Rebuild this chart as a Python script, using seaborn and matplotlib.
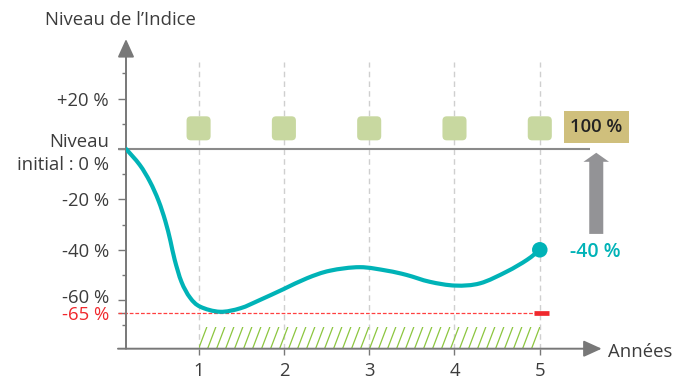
import numpy as np
import matplotlib
matplotlib.use("Agg")
import matplotlib.pyplot as plt
import matplotlib.transforms as mtransforms
import seaborn as sns
from matplotlib.patches import BoxStyle, Rectangle, PathPatch
from matplotlib.collections import LineCollection
from matplotlib.path import Path

# ---- data -------------------------------------------------------------
years = [0.15, 0.31, 0.43, 0.53, 0.61, 0.67, 0.72, 0.80, 0.90, 1.02,
         1.25, 1.49, 1.72, 1.99, 2.27, 2.54, 2.89, 3.21, 3.44, 3.71, 4.01,
         4.30, 4.61, 4.85, 5.00]
index_level = [0.0, -6.3, -13.0, -20.5, -28.6, -36.5, -44.0, -52.8,
               -59.0, -62.6, -64.6, -63.2, -59.9, -55.7, -51.3, -48.3, -46.9,
               -48.3, -50.0, -52.7, -54.2, -53.3, -48.7, -44.0, -40.0]
observation_years = [1, 2, 3, 4, 5]
coupon_level = [8.2, 8.2, 8.2, 8.2, 8.2]
barrier = -65
protection_top = -70.6
final_level = -40
redemption = "100 %"
ytick_values = [20, 0, -20, -40, -60, -65]
ytick_labels = ["+20 %", "Niveau\ninitial : 0 %", "-20 %", "-40 %", "-60 %", "-65 %"]
yminor_values = [30, 10, -10, -30, -50, -70]

# ---- style ------------------------------------------------------------
sns.set_theme(style="white")
plt.rcParams["font.family"] = ["Open Sans", "DejaVu Sans"]

TEAL = "#00b3b7"
AXIS = "#787878"
TEXT = "#3c3c3c"
RED = "#f0282d"
SQUARE = "#c8d8a0"
HATCH = "#8cc63f"
FS = 13.3

fig = plt.figure(figsize=(6.74, 3.82), dpi=100)
W, H = 674, 382
ax = fig.add_axes([126 / W, (H - 348.7) / H, (620 - 126) / W, (348.7 - 30) / H])
x0, x1 = 0.149, 0.149 + 494 / 85.3
y0, y1 = -79.25, -79.25 + 318.7 / 2.52
ax.set_xlim(x0, x1)
ax.set_ylim(y0, y1)
for s in ax.spines.values():
    s.set_visible(False)


def smooth_path(xs, ys):
    """Catmull-Rom curve through the given points, as cubic Bezier segments."""
    p = np.column_stack([xs, ys]).astype(float)
    q = np.vstack([p[0], p, p[-1]])
    verts, codes = [p[0]], [Path.MOVETO]
    for i in range(1, len(q) - 2):
        c1 = q[i] + (q[i + 1] - q[i - 1]) / 6.0
        c2 = q[i + 1] - (q[i + 2] - q[i]) / 6.0
        verts += [c1, c2, q[i + 1]]
        codes += [Path.CURVE4] * 3
    return Path(verts, codes)


# vertical guide lines for each observation date
ax.vlines(observation_years, y0, 34.6, colors="#cfcfcf", lw=1.0,
          linestyles=(0, (4, 3)), zorder=1)

# protected zone hatching
dx, step = 0.097, 0.1055
segs = [[(xs, y0), (xs + dx, protection_top)] for xs in np.arange(1, 5, step)]
clip = Rectangle((1, y0), 4, protection_top - y0, transform=ax.transData)
lc = LineCollection(segs, colors=HATCH, linewidths=0.9, zorder=2)
ax.add_collection(lc)
lc.set_clip_path(clip)

# barrier line
ax.plot([0.055, 5.0], [barrier, barrier], color="#ff4040", lw=0.9,
        dashes=(3, 1.5), clip_on=False, zorder=3)
ax.hlines(barrier, 4.932, 5.107, colors=RED, lw=3.4, zorder=4)

# initial level line
ax.hlines(0, 0.055, 5.589, colors="#8a8a8a", lw=1.5, clip_on=False, zorder=2)

# axes with arrows
arrow_kw = dict(arrowstyle="-|>,head_length=0.55,head_width=0.25",
                mutation_scale=20, color=AXIS, lw=1.4, shrinkA=0, shrinkB=0)
ax.annotate("", xy=(x0, 43.65), xytext=(x0, y0), arrowprops=arrow_kw,
            annotation_clip=False)
ax.annotate("", xy=(5.726, y0), xytext=(0.055, y0), arrowprops=arrow_kw,
            annotation_clip=False)

# index path
ax.add_patch(PathPatch(smooth_path(years, index_level), fill=False,
                       edgecolor=TEAL, lw=3.0, capstyle="round",
                       joinstyle="round", zorder=5))
sns.scatterplot(x=[observation_years[-1]], y=[final_level], color=TEAL,
                s=125, edgecolor="none", ax=ax, zorder=6)

# coupon observation squares
square = BoxStyle("Round", pad=0.0, rounding_size=0.18)(-0.5, -0.5, 1.0, 1.0, 1.0)
sns.scatterplot(x=observation_years, y=coupon_level, marker=square, s=300,
                color=SQUARE, edgecolor="none", ax=ax, zorder=4)

# redemption annotation
ax.annotate("", xy=(5.662, -1.5), xytext=(5.662, -33.7),
            arrowprops=dict(arrowstyle="simple,head_length=0.65,head_width=1.84,tail_width=1.01",
                            mutation_scale=10, fc="#939396", ec="none",
                            shrinkA=0, shrinkB=0),
            annotation_clip=False)
ax.text(5.665, 8.73, redemption, ha="center", va="center", fontsize=13.3,
        fontweight="semibold", color="#222222",
        bbox=dict(boxstyle="square,pad=0.36", fc="#cfbf7c", ec="none"))
ax.text(5.354, -40.7, f"{final_level} %", ha="left", va="center",
        fontsize=14, color=TEAL, fontweight="semibold")

# ticks
ax.set_yticks(ytick_values)
ax.set_yticklabels(ytick_labels, multialignment="right")
ax.set_yticks(yminor_values, minor=True)
ax.tick_params(axis="y", which="major", left=True, length=5.8, width=1.0,
               color=AXIS, pad=6.5, labelsize=FS, labelcolor=TEXT)
ax.tick_params(axis="y", which="minor", left=True, length=2.9, width=1.0,
               color=AXIS)
ytl = ax.get_yticklabels()
ytl[1].set_linespacing(1.35)
ytl[-1].set_color(RED)
ytl[-2].set_transform(ytl[-2].get_transform() +
                      mtransforms.ScaledTranslation(0, 3 / 72, fig.dpi_scale_trans))
ax.get_yticklines()[-2].set_color("#ff4040")

ax.set_xticks(observation_years)
ax.set_xticklabels([str(v) for v in observation_years])
ax.tick_params(axis="x", which="major", bottom=True, length=4.3, width=1.0,
               color=AXIS, pad=5.5, labelsize=FS, labelcolor=TEXT)

ax.set_xlabel("")
ax.set_ylabel("")
ax.text(5.80, -80.6, "Années", ha="left", va="center", fontsize=FS,
        color=TEXT, clip_on=False)
fig.text(45 / W, 1 - 20 / H, "Niveau de l’Indice", ha="left", va="center",
         fontsize=FS, color=TEXT)

fig.savefig("out.png", dpi=100)
